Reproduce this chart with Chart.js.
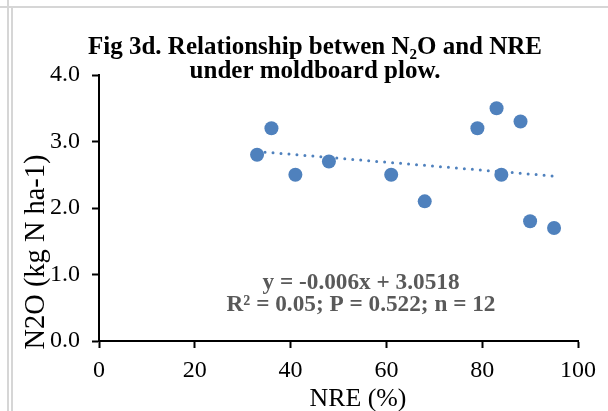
<!DOCTYPE html>
<html>
<head>
<meta charset="utf-8">
<script src="https://cdn.jsdelivr.net/npm/chart.js@4.4.1/dist/chart.umd.min.js"></script>
<style>
  html, body { margin: 0; padding: 0; background: #ffffff; }
  #wrap { position: relative; width: 608px; height: 411px; overflow: hidden; background: #ffffff; }
  #c { position: absolute; left: 0; top: 0; }
  .fr { position: absolute; background: #d6d6d6; }
</style>
</head>
<body>
<div id="wrap">
  <canvas id="c" width="608" height="411"></canvas>
  <div class="fr" style="left:0;top:6px;width:608px;height:2px;"></div>
  <div class="fr" style="left:7px;top:0;width:2px;height:411px;"></div>
  <div class="fr" style="left:11px;top:6px;width:2px;height:405px;"></div>
</div>
<script>
// ---- data ----
const nreValues = [33, 36, 41, 48, 61, 68, 79, 83, 88, 84, 90, 95];
const n2oValues = [2.8, 3.2, 2.5, 2.7, 2.5, 2.1, 3.2, 3.5, 3.3, 2.5, 1.8, 1.7];
const trendX = [33, 95];
const trendY = [2.85, 2.48];
const xTicks = [0, 20, 40, 60, 80, 100];
const yTicks = [0, 1, 2, 3, 4];
const titleLines = ['Fig 3d. Relationship betwen N\u2082O and NRE', 'under moldboard plow.'];
const xTitle = 'NRE (%)';
const yTitle = 'N2O (kg N ha-1)';
const equationLines = ['y = -0.006x + 3.0518', 'R\u00B2 = 0.05; P = 0.522; n = 12'];

const blue = '#4F81BD';
const serif = '"Liberation Serif", "Times New Roman", serif';

const points = nreValues.map((x, i) => ({ x: x, y: n2oValues[i] }));
const trend = trendX.map((x, i) => ({ x: x, y: trendY[i] }));

function fitFont(ctx, text, weight, target) {
  ctx.font = weight + ' 20px ' + serif;
  const w = ctx.measureText(text).width;
  return 20 * target / w;
}

const textPlugin = {
  id: 'textPlugin',
  afterDraw(chart) {
    const ctx = chart.ctx;
    const xs = chart.scales.x, ys = chart.scales.y;
    ctx.save();
    ctx.textBaseline = 'middle';
    ctx.textAlign = 'center';
    // chart title
    const tSize = fitFont(ctx, titleLines[0], 'bold', 454);
    ctx.font = 'bold ' + tSize.toFixed(2) + 'px ' + serif;
    ctx.fillStyle = '#000000';
    ctx.fillText(titleLines[0], 315, 48);
    ctx.fillText(titleLines[1], 315, 72);
    // equation
    const eSize = fitFont(ctx, equationLines[0], 'bold', 197);
    ctx.font = 'bold ' + eSize.toFixed(2) + 'px ' + serif;
    ctx.fillStyle = '#595959';
    const ex = xs.getPixelForValue(54.7);
    ctx.fillText(equationLines[0], ex, ys.getPixelForValue(0.87));
    ctx.fillText(equationLines[1], ex, ys.getPixelForValue(0.54));
    // axis titles
    ctx.fillStyle = '#000000';
    const xSize = fitFont(ctx, xTitle, 'normal', 97);
    ctx.font = xSize.toFixed(2) + 'px ' + serif;
    ctx.fillText(xTitle, 358, 399);
    const ySize = fitFont(ctx, yTitle, 'normal', 195);
    ctx.font = ySize.toFixed(2) + 'px ' + serif;
    ctx.translate(37, 252);
    ctx.rotate(-Math.PI / 2);
    ctx.fillText(yTitle, 0, 0);
    ctx.restore();
  }
};

new Chart(document.getElementById('c'), {
  type: 'scatter',
  data: {
    datasets: [
      {
        label: 'N2O vs NRE',
        data: points,
        backgroundColor: blue,
        borderColor: blue,
        borderWidth: 0,
        pointRadius: 7,
        pointHoverRadius: 7,
        order: 1
      },
      {
        type: 'line',
        label: 'Linear trend',
        data: trend,
        borderColor: blue,
        borderWidth: 3,
        borderDash: [0, 8],
        borderCapStyle: 'round',
        pointRadius: 0,
        fill: false,
        order: 2
      }
    ]
  },
  options: {
    responsive: false,
    animation: false,
    layout: { padding: { left: 0, right: 30, top: 75, bottom: 0 } },
    plugins: {
      legend: { display: false },
      title: { display: false },
      tooltip: { enabled: false }
    },
    scales: {
      x: {
        type: 'linear',
        min: xTicks[0],
        max: xTicks[xTicks.length - 1],
        afterBuildTicks: (s) => { s.ticks = xTicks.map(v => ({ value: v })); },
        afterFit: (s) => { s.height = 70; },
        ticks: {
          color: '#000000',
          font: { family: serif, size: 24 },
          padding: 8,
          maxRotation: 0,
          callback: (v) => String(v)
        },
        grid: {
          display: true,
          drawOnChartArea: false,
          drawTicks: true,
          tickLength: 7,
          tickColor: '#000000',
          tickWidth: 2
        },
        border: { display: true, color: '#000000', width: 2 }
      },
      y: {
        type: 'linear',
        min: yTicks[0],
        max: yTicks[yTicks.length - 1],
        afterBuildTicks: (s) => { s.ticks = yTicks.map(v => ({ value: v })); },
        afterFit: (s) => { s.width = 99; },
        ticks: {
          color: '#000000',
          font: { family: serif, size: 24 },
          padding: 12,
          callback: (v) => Number(v).toFixed(1)
        },
        grid: {
          display: true,
          drawOnChartArea: false,
          drawTicks: true,
          tickLength: 7,
          tickColor: '#000000',
          tickWidth: 2
        },
        border: { display: true, color: '#000000', width: 2 }
      }
    }
  },
  plugins: [textPlugin]
});
</script>
</body>
</html>
